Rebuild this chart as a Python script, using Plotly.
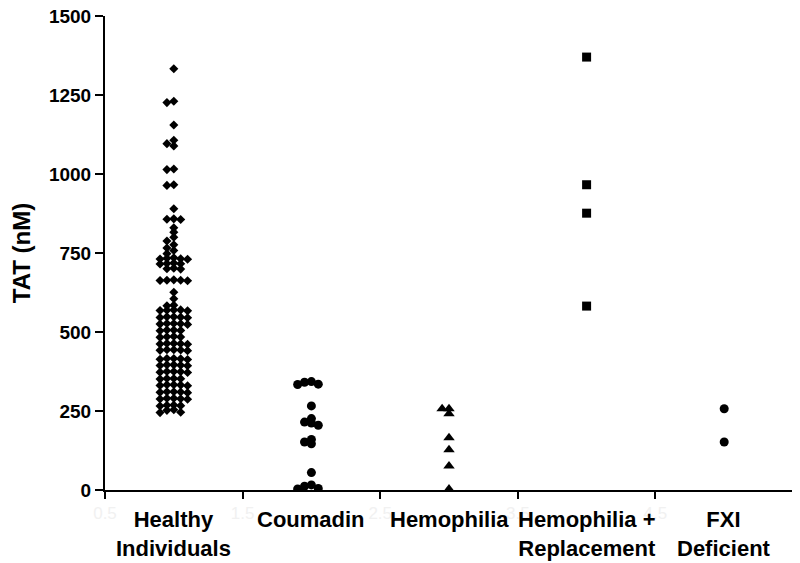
import plotly.graph_objects as go

# TAT values (nM), one list per group
categories = ["Healthy<br>Individuals", "Coumadin", "Hemophilia",
              "Hemophilia +<br>Replacement", "FXI<br>Deficient"]

healthy = [
    1333, 1230, 1226, 1155, 1089, 1096, 1107, 1016, 1014, 966, 964,
    890, 858, 856, 857, 830, 816, 800, 788, 776, 766, 758, 748,
    735, 733, 732, 730, 731,
    718, 716, 715, 717,
    702, 700, 699,
    665, 664, 663, 664, 662,
    626, 605,
    585, 583,
    570, 569, 568, 570, 567,
    548, 547, 546, 548, 545,
    527, 526, 525, 527, 524,
    506, 505, 504, 506,
    485, 484, 483, 486,
    464, 463, 462, 464, 461,
    444, 443, 442, 444, 441,
    416, 415, 414, 416, 413,
    396, 395, 394, 396, 393,
    375, 374, 373, 375, 372,
    353, 352, 351, 353,
    333, 332, 331, 333, 330,
    311, 310, 309, 311, 308,
    290, 289, 288, 290, 287,
    269, 268, 267, 266,
    254, 252,
    246, 245,
]
coumadin = [343, 341, 335, 334, 266, 226, 215, 212, 205, 160, 152, 146,
            55, 16, 12, 5, 3]
hemophilia = [257, 257, 241, 165, 127, 76, 3]
hemo_replacement = [1370, 966, 876, 582]
fxi_deficient = [257, 152]

x_ticks = [0.5, 1.5, 2.5, 3.5, 4.5, 5.5]


def swarm(values, center, step=0.05, gap=14):
    """spread points sideways in columns so they do not sit on top of each other"""
    placed = []
    xs = [center] * len(values)
    for i in sorted(range(len(values)), key=lambda k: -values[k]):
        v = values[i]
        col = 0
        for c in (0, -1, 1, -2, 2, -3, 3):
            if all(abs(v - pv) >= gap for pc, pv in placed if pc == c):
                col = c
                break
        placed.append((col, v))
        xs[i] = center + col * step
    return xs


groups = [
    (healthy, "diamond", 7),
    (coumadin, "circle", 9),
    (hemophilia, "triangle-up", 10),
    (hemo_replacement, "square", 9),
    (fxi_deficient, "circle", 9),
]

fig = go.Figure()
for k, (vals, sym, size) in enumerate(groups):
    fig.add_trace(go.Scatter(
        x=swarm(vals, k + 1),
        y=vals,
        mode="markers",
        marker=dict(symbol=sym, size=size, color="black", line=dict(width=0)),
        showlegend=False,
    ))

for k, name in enumerate(categories):
    fig.add_annotation(
        x=k + 1, y=0, xref="x", yref="paper",
        text=f"<b>{name}</b>", showarrow=False,
        yanchor="top", yshift=-15,
        font=dict(family="Liberation Sans, Arial", size=22, color="black"),
    )

# the page body adds an 8px margin, so the figure is sized to the visible part
fig.update_layout(
    width=792, height=555,
    margin=dict(l=97, r=7, t=8, b=73),
    plot_bgcolor="white", paper_bgcolor="white",
    font=dict(family="Liberation Sans, Arial", color="black"),
)
fig.update_xaxes(
    range=[0.5, 5.5], tickvals=x_ticks, ticktext=[str(t) for t in x_ticks],
    tickfont=dict(size=17, color="#f1f1f1"),
    showline=True, linecolor="black", linewidth=2,
    ticks="outside", ticklen=7, tickwidth=2, tickcolor="black",
    showgrid=False, zeroline=False, automargin=False,
)
fig.update_yaxes(
    range=[0, 1500], dtick=250,
    tickfont=dict(size=19, weight="bold"), ticklabeloverflow="allow",
    title=dict(text="TAT (nM)", font=dict(size=24, weight="bold"), standoff=14),
    showline=True, linecolor="black", linewidth=2,
    ticks="outside", ticklen=8, tickwidth=2, tickcolor="black",
    showgrid=False, zeroline=False, automargin=False,
)

fig.write_html("out.html")
